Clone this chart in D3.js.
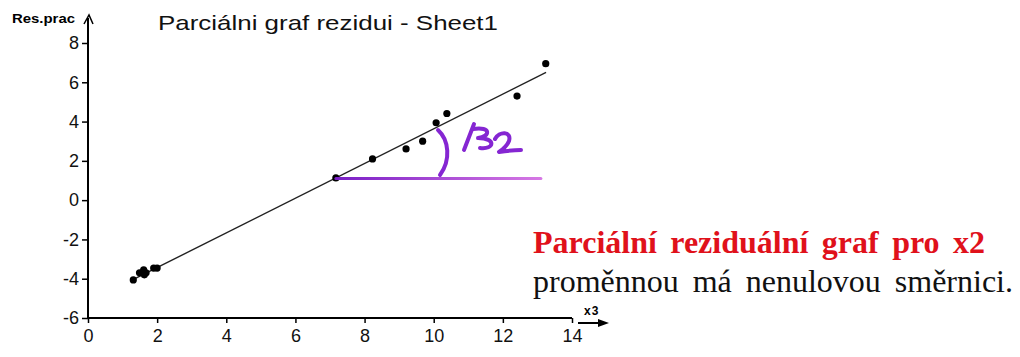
<!DOCTYPE html>
<html><head><meta charset="utf-8">
<script src="https://cdn.jsdelivr.net/npm/d3@7"></script>
<style>body{margin:0;background:#fff}svg{display:block}</style>
</head><body>
<script>
const xVals = [1.31, 1.49, 1.61, 1.63, 1.68, 1.9, 2.0, 7.17, 8.23, 9.2, 9.68, 10.07, 10.38, 12.41, 13.24];
const yVals = [-4.06, -3.7, -3.55, -3.8, -3.7, -3.46, -3.46, 1.13, 2.10, 2.61, 3.0, 3.94, 4.41, 5.3, 6.95];
const fitX = [1.3, 13.25];
const fitY = [-4.05, 6.5];
const xTicks = [0, 2, 4, 6, 8, 10, 12, 14];
const yTicks = [-6, -4, -2, 0, 2, 4, 6, 8];
const baseX = [7.17, 13.1];
const baseY = [1.1, 1.1];
const title = "Parciálni graf rezidui - Sheet1";
const yLabel = "Res.prac";
const xLabel = "x3";
const noteRed = "Parciální reziduální graf pro x2";
const noteBlack = "proměnnou má nenulovou směrnici.";

const W = 1020, H = 357;
const svg = d3.select("body").append("svg").attr("width", W).attr("height", H);
const x = d3.scaleLinear().domain([0, 14]).range([88, 572]);
const y = d3.scaleLinear().domain([-6, 8]).range([318, 43]);
const fmt = d => String(d);

const defs = svg.append("defs");
const grad = defs.append("linearGradient").attr("id", "pg").attr("gradientUnits", "userSpaceOnUse")
  .attr("x1", x(baseX[0])).attr("x2", x(baseX[1])).attr("y1", 0).attr("y2", 0);
grad.append("stop").attr("offset", "0%").attr("stop-color", "#7a1fc6");
grad.append("stop").attr("offset", "100%").attr("stop-color", "#d678e4");

// axes
const xAxis = d3.axisBottom(x).tickValues(xTicks).tickSize(5).tickPadding(6).tickFormat(fmt);
const gx = svg.append("g").attr("transform", `translate(0,${y(-6)})`).call(xAxis);
gx.select(".domain").attr("d", `M${x(0)},0H${x(14)}`).attr("stroke-width", 2);
gx.selectAll("text").attr("font-family", "Arial, 'Liberation Sans', sans-serif").attr("font-size", 18).attr("fill", "#111");
gx.selectAll("line").attr("stroke-width", 1.5);

const yAxis = d3.axisLeft(y).tickValues(yTicks).tickSize(6).tickPadding(3).tickFormat(fmt);
const gy = svg.append("g").attr("transform", `translate(${x(0)},0)`).call(yAxis);
gy.select(".domain").attr("d", `M0,${y(-6)}V18`).attr("stroke-width", 2);
gy.selectAll("text").attr("font-family", "Arial, 'Liberation Sans', sans-serif").attr("font-size", 18).attr("fill", "#111");
gy.selectAll("line").attr("stroke-width", 1.5);

// y arrow head
svg.append("path").attr("d", `M${x(0)-4},24 L${x(0)+1},15 L${x(0)+5},24`).attr("fill", "none").attr("stroke", "#000").attr("stroke-width", 1.5);
// x arrow
svg.append("line").attr("x1", 578).attr("x2", 606).attr("y1", y(-6)+5).attr("y2", y(-6)+5).attr("stroke", "#000").attr("stroke-width", 2);
svg.append("path").attr("d", `M598,${y(-6)+1} L609,${y(-6)+5} L598,${y(-6)+9}Z`).attr("fill", "#000");

svg.append("text").attr("x", 584).attr("y", y(-6)-3).text(xLabel)
  .attr("font-family", "Arial, 'Liberation Sans', sans-serif").attr("font-size", 12).attr("font-weight", "bold").attr("letter-spacing", 1);
svg.append("text").attr("x", 12).attr("y", 23).text(yLabel)
  .attr("font-family", "Arial, 'Liberation Sans', sans-serif").attr("font-size", 13).attr("font-weight", "bold")
  .attr("textLength", 63).attr("lengthAdjust", "spacingAndGlyphs");
svg.append("text").attr("x", 158).attr("y", 30).text(title)
  .attr("font-family", "Arial, 'Liberation Sans', sans-serif").attr("font-size", 21).attr("fill", "#111")
  .attr("textLength", 340).attr("lengthAdjust", "spacingAndGlyphs");

// fit line
svg.append("line").attr("x1", x(fitX[0])).attr("y1", y(fitY[0])).attr("x2", x(fitX[1])).attr("y2", y(fitY[1]))
  .attr("stroke", "#222").attr("stroke-width", 1.4);

// points
svg.append("g").selectAll("circle").data(xVals.map((v, i) => [v, yVals[i]])).join("circle")
  .attr("cx", d => x(d[0])).attr("cy", d => y(d[1])).attr("r", 3.6).attr("fill", "#000");

// purple annotation
svg.append("line").attr("x1", x(baseX[0])).attr("y1", y(baseY[0])).attr("x2", x(baseX[1])).attr("y2", y(baseY[1]))
  .attr("stroke", "url(#pg)").attr("stroke-width", 3).attr("stroke-linecap", "round");
const pen = g => g.attr("fill", "none").attr("stroke", "#8526d2").attr("stroke-width", 4)
  .attr("stroke-linecap", "round").attr("stroke-linejoin", "round");
svg.append("path").attr("d", "M438,130 C449,140 451,160 440,175").call(pen);
svg.append("path").attr("d", "M464,150 L474,124 M473,129 C492,126 490,137 478,138 C497,138 494,150 480,148").call(pen);
svg.append("path").attr("d", "M495,139 C499,131 512,131 509,141 C507,146 502,150 499,152 C506,151 514,150 521,150").call(pen);

// right note
function fitWords(sel, target) {
  const n = sel.text().split(" ").length - 1;
  const w = sel.node().getComputedTextLength();
  sel.attr("word-spacing", Math.max(0, (target - w) / n));
}
svg.append("text").attr("x", 533).attr("y", 253).text(noteRed)
  .attr("font-family", "'Liberation Serif', 'Times New Roman', serif").attr("font-size", 32).attr("font-weight", "bold").attr("fill", "#e0111b")
  .call(s => fitWords(s, 452));
svg.append("text").attr("x", 533).attr("y", 292).text(noteBlack)
  .attr("font-family", "'Liberation Serif', 'Times New Roman', serif").attr("font-size", 32).attr("fill", "#111")
  .call(s => fitWords(s, 480));
</script>
</body></html>
